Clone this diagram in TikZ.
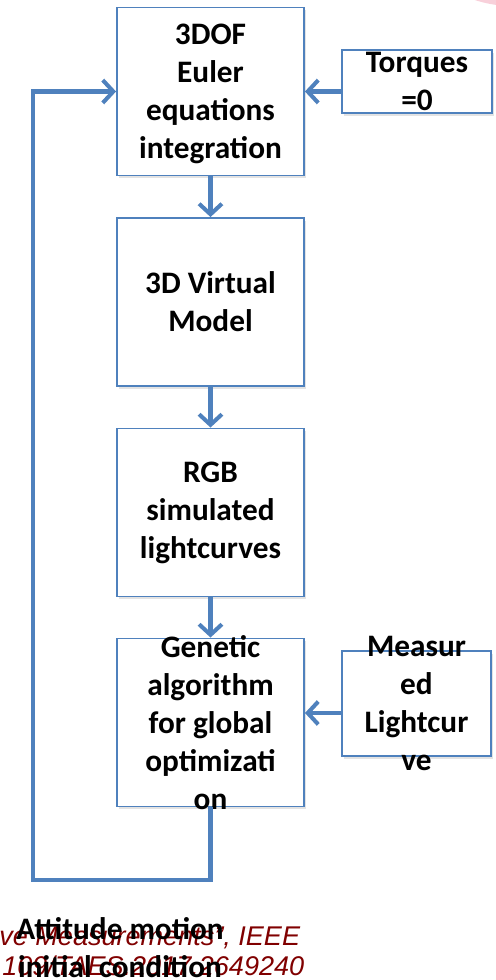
\documentclass[tikz,border=0pt]{standalone}
\usepackage{fontspec}
\setmainfont{Carlito}
\newfontfamily\citefont{Liberation Sans}
\usetikzlibrary{arrows.meta,calc,shadows}
\definecolor{flowBlue}{RGB}{79,129,189}
\definecolor{citeRed}{RGB}{128,0,0}
\definecolor{cornerPink}{RGB}{248,208,218}

\begin{document}
\begin{tikzpicture}[
    x=0.02cm, y=-0.02cm,
    block/.style={draw=flowBlue, line width=1.1pt, fill=white, minimum width=3.74cm, minimum height=3.36cm, inner sep=0pt,
        drop shadow={opacity=0.22, shadow xshift=1.2pt, shadow yshift=-1.5pt}},
    blocktext/.style={font=\fontsize{17.8}{21.6}\selectfont\bfseries, align=center, inner sep=0pt},
    citetext/.style={font=\citefont\itshape\fontsize{15.4}{17.1}\selectfont, text=citeRed, inner sep=0pt, anchor=base west},
    arrow/.style={-{Straight Barb[length=6pt, width=13pt]}, line width=2.3pt, flowBlue}
]
    \useasboundingbox (0,0) rectangle (496,980);
    \fill[cornerPink] (512,-112) circle (118);

    % main chain
    \node[block] (euler) at (210.5,91.5) {};
    \node[block] (model) at (210.5,302) {};
    \node[block] (rgb) at (210.5,512.5) {};
    \node[block] (ga) at (210.5,722.5) {};
    \node[blocktext] (euler-t) at (210.5,94) {3DOF\\Euler\\equations\\integration};
    \node[blocktext] (model-t) at (model) {3D Virtual\\Model};
    \node[blocktext] (rgb-t) at (rgb) {RGB\\simulated\\lightcurves};
    \node[blocktext] (ga-t) at (ga) {Genetic\\algorithm\\for global\\optimizati\\on};

    % side inputs
    \node[block, minimum width=3cm, minimum height=1.26cm] (torq) at (417,81.5) {};
    \node[block, minimum width=2.98cm, minimum height=2.1cm] (meas) at (416.5,703.5) {};
    \node[blocktext] (torq-t) at (torq) {Torques\\=0};
    \node[blocktext] (meas-t) at (meas) {Measur\\ed\\Lightcur\\ve};

    \draw[arrow] (euler) -- (model);
    \draw[arrow] (model) -- (rgb);
    \draw[arrow] (rgb) -- (ga);
    \draw[arrow] (torq.west |- euler.east) -- (euler.east);
    \coordinate (mid) at ($(meas.west)!0.5!(ga.east)$);
    \draw[arrow] (meas.west |- mid) -- (ga.east |- mid);

    % feedback loop
    \coordinate (loop) at (33,880);
    \draw[arrow] (ga.south) |- (loop) |- (euler.west);

    % caption residue
    \node[citetext] (cite1) at (-1,945) {ve Measurements”, IEEE};
    \node[citetext] (cite2) at (2,975) {109/TAES.2017.2649240};
    \node[blocktext] (init) at (120,947.5) {Attitude motion\\initial condition};
\end{tikzpicture}
\end{document}
